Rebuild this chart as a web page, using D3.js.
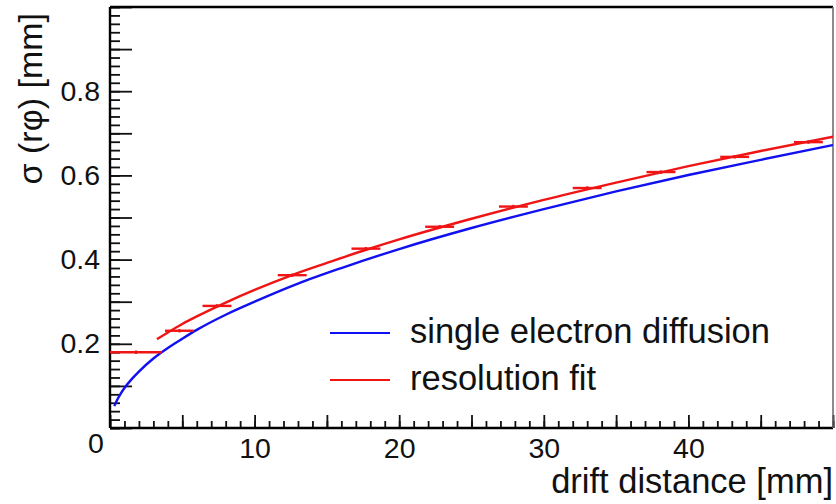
<!DOCTYPE html>
<html>
<head>
<meta charset="utf-8">
<script src="https://cdn.jsdelivr.net/npm/d3@7"></script>
<style>
  body { margin: 0; background: #fff; }
  text { font-family: "Liberation Sans", Arial, sans-serif; fill: #111; }
</style>
</head>
<body>
<div id="chart"></div>
<script>
// measured points (drift distance in mm, sigma in mm)
var pointZ = [1.8, 4.8, 7.4, 12.6, 17.7, 22.8, 27.9, 33.0, 38.1, 43.2, 48.3];
var pointZErr = [1.8, 1.0, 1.0, 1.0, 1.0, 1.0, 1.0, 1.0, 1.0, 1.0, 1.0];
var pointSigma = [0.180, 0.231, 0.290, 0.363, 0.426, 0.478, 0.526, 0.570, 0.608, 0.644, 0.679];
var pointSigmaErr = [0.004, 0.004, 0.004, 0.004, 0.004, 0.004, 0.004, 0.004, 0.004, 0.004, 0.004];

// single electron diffusion curve
var diffZ = [0.3, 0.5, 0.75, 1, 1.5, 2, 3, 4, 5, 6, 8, 10, 13, 16, 20, 25, 30, 35, 40, 45, 50];
var diffSigma = [0.052, 0.067, 0.082, 0.095, 0.116, 0.134, 0.165, 0.190, 0.212, 0.233, 0.269,
  0.300, 0.343, 0.380, 0.425, 0.475, 0.520, 0.562, 0.601, 0.637, 0.672];

// resolution fit curve
var fitZ = [3.25, 4, 5, 6, 8, 10, 12.5, 15, 17.5, 20, 25, 30, 35, 40, 45, 50];
var fitSigma = [0.211, 0.227, 0.247, 0.265, 0.298, 0.328, 0.362, 0.392, 0.421, 0.448,
  0.497, 0.542, 0.583, 0.622, 0.658, 0.692];

var yLabelTicks = [0.2, 0.4, 0.6, 0.8];
var xLabelTicks = [10, 20, 30, 40];
var legendNames = ["single electron diffusion", "resolution fit"];
var legendColors = ["#1010f0", "#f01414"];

var svgWidth = 836;
var svgHeight = 504;
var margin = { top: 7, right: 3, bottom: 76, left: 110 };
var width = svgWidth - margin.left - margin.right;
var height = svgHeight - margin.top - margin.bottom;

var svg = d3.select("#chart")
  .append("svg")
  .attr("width", svgWidth)
  .attr("height", svgHeight);

var chartGroup = svg.append("g")
  .attr("transform", `translate(${margin.left}, ${margin.top})`);

// scales
var xScale = d3.scaleLinear().domain([0, 50]).range([0, width]);
var yScale = d3.scaleLinear().domain([0, 1.0]).range([height, 0]);

chartGroup.append("clipPath")
  .attr("id", "plotClip")
  .append("rect")
  .attr("width", width)
  .attr("height", height);

// y axis ticks (inward)
chartGroup.append("g")
  .call(d3.axisRight(yScale).tickValues(d3.range(0, 1.01, 0.1)).tickSize(22).tickFormat(""));
chartGroup.append("g")
  .call(d3.axisRight(yScale).tickValues(d3.range(0, 1.001, 0.02)).tickSize(10).tickFormat(""));
chartGroup.append("g")
  .attr("class", "ylabels")
  .call(d3.axisLeft(yScale).tickValues(yLabelTicks).tickSize(0).tickPadding(10).tickFormat(d3.format(".1f")));

// x axis ticks (inward)
var xAxisGroup = chartGroup.append("g")
  .attr("transform", `translate(0, ${height})`);
xAxisGroup.append("g")
  .call(d3.axisTop(xScale).tickValues(d3.range(0, 51, 5)).tickSize(13).tickFormat(""));
xAxisGroup.append("g")
  .call(d3.axisTop(xScale).tickValues(d3.range(0, 51, 1)).tickSize(7).tickFormat(""));
xAxisGroup.append("g")
  .attr("class", "xlabels")
  .call(d3.axisBottom(xScale).tickValues(xLabelTicks).tickSize(0).tickPadding(10).tickFormat(d3.format("d")));

svg.selectAll(".domain").remove();
svg.selectAll(".tick line").attr("stroke", "#111").attr("stroke-width", 1.8);
svg.selectAll(".ylabels text, .xlabels text")
  .attr("font-size", "28.5px")
  .attr("font-family", "Liberation Sans, Arial, sans-serif")
  .attr("fill", "#111");

// the shared zero label
chartGroup.append("text")
  .attr("x", -14)
  .attr("y", height + 25)
  .attr("text-anchor", "middle")
  .attr("font-size", "28.5px")
  .text("0");

// frame
chartGroup.append("line").attr("x1", 0).attr("x2", 0).attr("y1", 0).attr("y2", height)
  .attr("stroke", "#000").attr("stroke-width", 2.4);
chartGroup.append("line").attr("x1", 0).attr("x2", width).attr("y1", height).attr("y2", height)
  .attr("stroke", "#000").attr("stroke-width", 2.4);
chartGroup.append("line").attr("x1", 0).attr("x2", width).attr("y1", 0).attr("y2", 0)
  .attr("stroke", "#000").attr("stroke-width", 2.6);
chartGroup.append("line").attr("x1", width).attr("x2", width).attr("y1", 0).attr("y2", height)
  .attr("stroke", "#666").attr("stroke-width", 1.5);

// curves
var line = d3.line()
  .x(d => xScale(d[0]))
  .y(d => yScale(d[1]))
  .curve(d3.curveMonotoneX);

var plotArea = chartGroup.append("g").attr("clip-path", "url(#plotClip)");

plotArea.append("path")
  .datum(diffZ.map((z, i) => [z, diffSigma[i]]))
  .attr("d", line)
  .attr("fill", "none")
  .attr("stroke", legendColors[0])
  .attr("stroke-width", 2.4);

plotArea.append("path")
  .datum(fitZ.map((z, i) => [z, fitSigma[i]]))
  .attr("d", line)
  .attr("fill", "none")
  .attr("stroke", legendColors[1])
  .attr("stroke-width", 2.4);

// error bars
var bars = plotArea.selectAll(".pt")
  .data(pointZ.map((z, i) => ({ z: z, ez: pointZErr[i], s: pointSigma[i], es: pointSigmaErr[i] })))
  .enter()
  .append("g")
  .attr("class", "pt");

bars.append("line")
  .attr("x1", d => xScale(d.z - d.ez))
  .attr("x2", d => xScale(d.z + d.ez))
  .attr("y1", d => yScale(d.s))
  .attr("y2", d => yScale(d.s))
  .attr("stroke", legendColors[1])
  .attr("stroke-width", 2.4);

bars.append("line")
  .attr("x1", d => xScale(d.z))
  .attr("x2", d => xScale(d.z))
  .attr("y1", d => yScale(d.s - d.es))
  .attr("y2", d => yScale(d.s + d.es))
  .attr("stroke", legendColors[1])
  .attr("stroke-width", 2.4);

// axis titles
svg.append("text")
  .attr("x", 833)
  .attr("y", 493)
  .attr("text-anchor", "end")
  .attr("font-size", "34.5px")
  .text("drift distance [mm]");

svg.append("text")
  .attr("transform", "translate(42, 13) rotate(-90)")
  .attr("text-anchor", "end")
  .attr("font-size", "34px")
  .text("σ (rφ) [mm]");

// legend
var legend = svg.append("g")
  .attr("transform", "translate(330, 333)");

legendNames.forEach(function(name, i) {
  legend.append("line")
    .attr("x1", 0)
    .attr("x2", 60)
    .attr("y1", i * 47)
    .attr("y2", i * 47)
    .attr("stroke", legendColors[i])
    .attr("stroke-width", 2.2);
  legend.append("text")
    .attr("x", 80)
    .attr("y", i * 47 + 10)
    .attr("font-size", "34.5px")
    .text(name);
});
</script>
</body>
</html>
